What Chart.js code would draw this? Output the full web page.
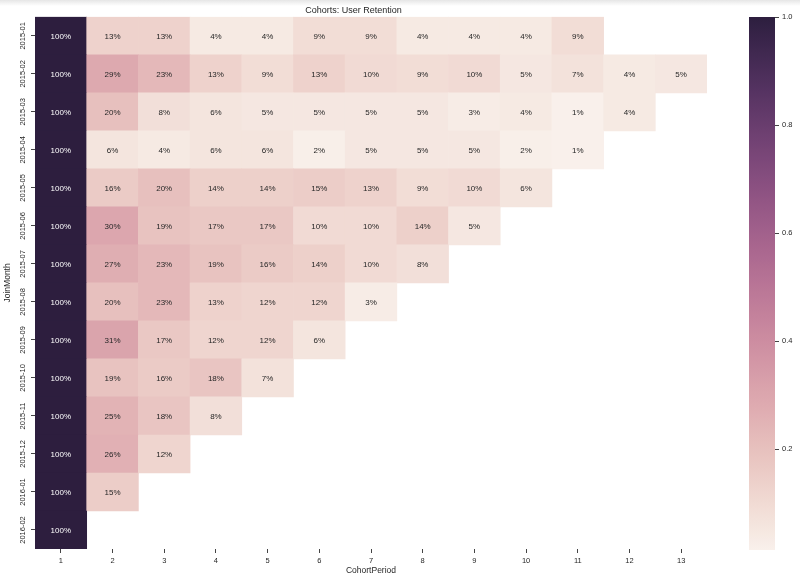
<!DOCTYPE html>
<html>
<head>
<meta charset="utf-8">
<script src="https://cdn.jsdelivr.net/npm/chart.js@4.4.0/dist/chart.umd.min.js"></script>
<style>
  html, body { margin: 0; padding: 0; background: #fff; }
  #wrap { position: relative; width: 800px; height: 577px; overflow: hidden; }
  #main { position: absolute; left: 0; top: 0; }
  #cbar { position: absolute; left: 700px; top: 0; }
  #shade { position: absolute; left: 0; top: 0; width: 800px; height: 6px;
           background: linear-gradient(#e6e6e6, rgba(255,255,255,0)); pointer-events: none; }
</style>
</head>
<body>
<div id="wrap">
  <canvas id="main" width="800" height="577"></canvas>
  <canvas id="cbar" width="100" height="577"></canvas>
  <div id="shade"></div>
</div>
<script>
// ---------- data ----------
const rowLabels = ['2015-01','2015-02','2015-03','2015-04','2015-05','2015-06','2015-07',
                   '2015-08','2015-09','2015-10','2015-11','2015-12','2016-01','2016-02'];
const periodLabels = [1,2,3,4,5,6,7,8,9,10,11,12,13];
// retention in percent, one row per cohort (JoinMonth), one column per CohortPeriod
const retention_2015_01 = [100,13,13,4,4,9,9,4,4,4,9];
const retention_2015_02 = [100,29,23,13,9,13,10,9,10,5,7,4,5];
const retention_2015_03 = [100,20,8,6,5,5,5,5,3,4,1.3,4];
const retention_2015_04 = [100,6,4,6,6,2,5,5,5,2,1.3];
const retention_2015_05 = [100,16,20,14,14,15,13,9,10,6];
const retention_2015_06 = [100,30,19,17,17,10,10,14,5];
const retention_2015_07 = [100,27,23,19,16,14,10,8];
const retention_2015_08 = [100,20,23,13,12,12,3];
const retention_2015_09 = [100,31,17,12,12,6];
const retention_2015_10 = [100,19,16,18,7];
const retention_2015_11 = [100,25,18,8];
const retention_2015_12 = [100,26,12];
const retention_2016_01 = [100,15];
const retention_2016_02 = [100];
const colorbarTicks = [0.2,0.4,0.6,0.8,1.0];

const retentionRows = [retention_2015_01,retention_2015_02,retention_2015_03,retention_2015_04,
  retention_2015_05,retention_2015_06,retention_2015_07,retention_2015_08,retention_2015_09,
  retention_2015_10,retention_2015_11,retention_2015_12,retention_2016_01,retention_2016_02];

// ---------- colormap (seaborn cubehelix) ----------
const CH = {start:0, rot:0.4, gamma:1, hue:0.8, light:0.95, dark:0.15};
function chan(x, p0, p1) {
  const xg = Math.pow(x, CH.gamma);
  const a = CH.hue * xg * (1 - xg) / 2;
  const phi = 2 * Math.PI * (CH.start / 3 + CH.rot * x);
  return Math.min(1, Math.max(0, xg + a * (p0 * Math.cos(phi) + p1 * Math.sin(phi))));
}
function cmapRGB(t) {
  t = Math.min(1, Math.max(0, t));
  const x = CH.light + (CH.dark - CH.light) * t;
  return [chan(x,-0.14861,1.78277), chan(x,-0.29227,-0.90649), chan(x,1.97294,0)];
}
function rgbStr(c) { return 'rgb(' + c.map(v => Math.round(v*255)).join(',') + ')'; }
function relLum(c) {
  const l = c.map(v => v <= 0.03928 ? v/12.92 : Math.pow((v+0.055)/1.055, 2.4));
  return 0.2126*l[0] + 0.7152*l[1] + 0.0722*l[2];
}

const allVals = retentionRows.flat().map(v => v/100);
const vmin = Math.min(...allVals);
const vmax = Math.max(...allVals);
const norm = v => (v - vmin) / (vmax - vmin);

const cells = [];
retentionRows.forEach((row, r) => {
  row.forEach((pct, c) => {
    cells.push({ x: [periodLabels[c] - 0.5, periodLabels[c] + 0.5], y: rowLabels[r], v: pct/100 });
  });
});

Chart.defaults.font.family = '"Liberation Sans", Arial, sans-serif';
Chart.defaults.color = '#262626';
Chart.defaults.animation = false;

const annotate = {
  id: 'annotate',
  afterDatasetsDraw(chart) {
    const meta = chart.getDatasetMeta(0);
    const ctx = chart.ctx;
    ctx.save();
    ctx.font = '8px "Liberation Sans", Arial, sans-serif';
    ctx.textAlign = 'center';
    ctx.textBaseline = 'middle';
    meta.data.forEach((el, i) => {
      const d = cells[i];
      const col = cmapRGB(norm(d.v));
      ctx.fillStyle = relLum(col) > 0.408 ? '#262626' : '#ffffff';
      const cx = (el.x + el.base) / 2;
      ctx.fillText(Math.round(d.v*100) + '%', cx, el.y + 0.5);
    });
    ctx.restore();
  },
  afterDraw(chart) {
    const ys = chart.scales.y;
    const ctx = chart.ctx;
    ctx.save();
    ctx.font = '7.5px "Liberation Sans", Arial, sans-serif';
    ctx.fillStyle = '#262626';
    ctx.textAlign = 'center';
    ctx.textBaseline = 'middle';
    rowLabels.forEach((lab, i) => {
      const y = ys.getPixelForTick(i);
      ctx.save();
      ctx.translate(23, y);
      ctx.rotate(-Math.PI/2);
      ctx.fillText(lab, 0, 0);
      ctx.restore();
    });
    ctx.restore();
  }
};

new Chart(document.getElementById('main'), {
  type: 'bar',
  data: {
    labels: rowLabels,
    datasets: [{
      data: cells,
      backgroundColor: (c) => c.raw ? rgbStr(cmapRGB(norm(c.raw.v))) : '#fff',
      borderWidth: 0,
      barPercentage: 1,
      categoryPercentage: 1
    }]
  },
  options: {
    indexAxis: 'y',
    responsive: false,
    layout: { padding: { top: 0, right: 93, bottom: 0, left: 0 } },
    plugins: {
      legend: { display: false },
      tooltip: { enabled: false },
      title: { display: true, text: 'Cohorts: User Retention',
               font: { size: 9, weight: 'normal' }, color: '#262626',
               padding: { top: 5, bottom: 1 } }
    },
    scales: {
      x: {
        type: 'linear', min: 0.5, max: 13.5,
        afterBuildTicks: (s) => { s.ticks = periodLabels.map(v => ({ value: v })); },
        afterFit: (s) => { s.height = 28; },
        grid: { display: true, drawOnChartArea: false, drawTicks: true, tickLength: 4, color: '#444' },
        border: { display: false },
        ticks: { font: { size: 7.5 }, color: '#262626', padding: 3, maxRotation: 0 },
        title: { display: true, text: 'CohortPeriod', font: { size: 8.5 }, color: '#262626',
                 padding: { top: 0, bottom: 1 } }
      },
      y: {
        type: 'category',
        afterFit: (s) => { s.width = 35; },
        grid: { display: true, offset: false, drawOnChartArea: false, drawTicks: true, tickLength: 4, color: '#444' },
        border: { display: false },
        ticks: { display: false },
        title: { display: true, text: 'JoinMonth', font: { size: 8.5 }, color: '#262626',
                 padding: { top: 3, bottom: 0 } }
      }
    }
  },
  plugins: [annotate]
});

// ---------- colorbar ----------
new Chart(document.getElementById('cbar'), {
  type: 'bar',
  data: {
    labels: [''],
    datasets: [{
      data: [[vmin, vmax]],
      backgroundColor: (c) => {
        const area = c.chart.chartArea;
        if (!area) return '#ccc';
        const g = c.chart.ctx.createLinearGradient(0, area.bottom, 0, area.top);
        for (let i = 0; i <= 64; i++) {
          g.addColorStop(i/64, rgbStr(cmapRGB(i/64)));
        }
        return g;
      },
      borderWidth: 0,
      barPercentage: 1,
      categoryPercentage: 1
    }]
  },
  options: {
    responsive: false,
    layout: { padding: { top: 17, right: 0, bottom: 27, left: 49 } },
    plugins: { legend: { display: false }, tooltip: { enabled: false } },
    scales: {
      x: { display: false },
      y: {
        type: 'linear', position: 'right', min: vmin, max: vmax,
        afterBuildTicks: (s) => { s.ticks = colorbarTicks.map(v => ({ value: v })); },
        afterFit: (s) => { s.width = 25; },
        grid: { display: true, drawOnChartArea: false, drawTicks: true, tickLength: 4, color: '#444' },
        border: { display: false },
        ticks: { font: { size: 7.5 }, color: '#262626', padding: 3,
                 callback: (v) => Number(v).toFixed(1) }
      }
    }
  }
});
</script>
</body>
</html>
